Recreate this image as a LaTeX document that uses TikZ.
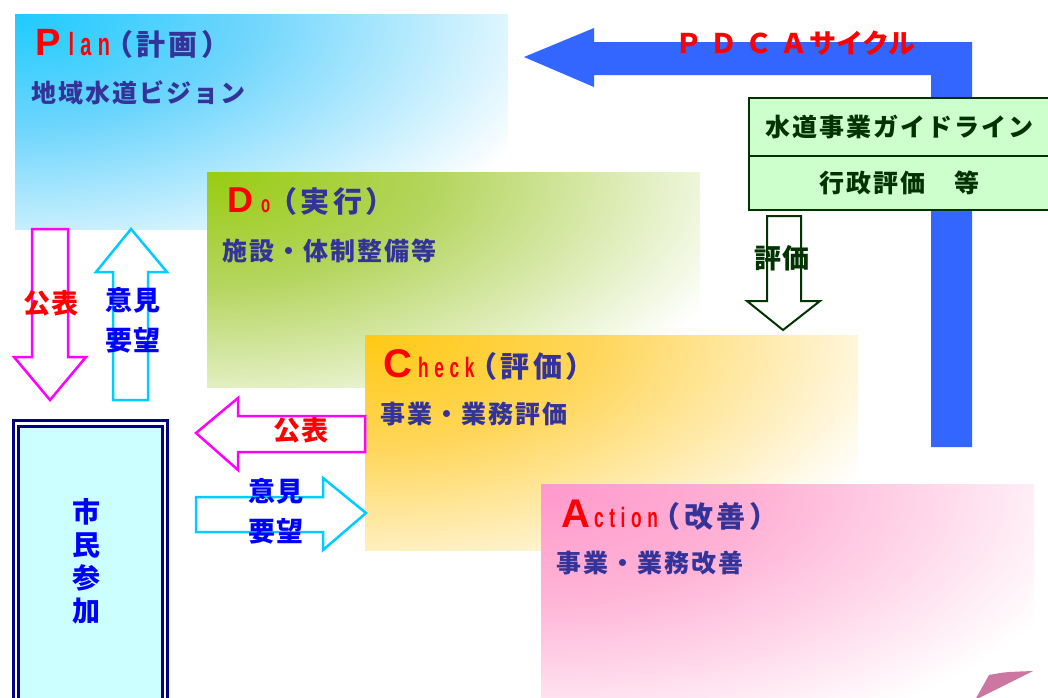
\documentclass[tikz,border=0pt]{standalone}
\usepackage{fontspec}
\newfontfamily\jp{Noto Sans CJK JP}[LetterSpace=8]
\newfontfamily\jpt{Noto Sans CJK JP}[LetterSpace=12]
\newfontfamily\jpl{Noto Sans CJK JP}[LetterSpace=4]
\newfontfamily\jpn{Noto Sans CJK JP}
\newfontfamily\latb{Liberation Sans}
\newfontfamily\nar{Liberation Sans}[FakeStretch=0.62, LetterSpace=20]
\definecolor{bodyc}{HTML}{333399}
\definecolor{planA}{HTML}{1ECBFF}
\definecolor{planB}{HTML}{6DD5FC}
\definecolor{doA}{HTML}{99CC11}
\definecolor{doB}{HTML}{B4D55E}
\definecolor{chA}{HTML}{FFC914}
\definecolor{chB}{HTML}{FFD65A}
\definecolor{acA}{HTML}{FF99CC}
\definecolor{acB}{HTML}{FFB3D6}
\definecolor{pdcablue}{HTML}{3366FF}
\definecolor{gdark}{HTML}{003300}
\definecolor{gfill}{HTML}{CCFFCC}
\definecolor{mag}{HTML}{FF00FF}
\definecolor{cya}{HTML}{00CCFF}
\definecolor{tblue}{HTML}{0000FF}
\definecolor{navy}{HTML}{000080}
\definecolor{cfill}{HTML}{CCFFFF}
\definecolor{curlc}{HTML}{CC77A2}
\pgfdeclareradialshading{planshade}{\pgfpoint{0bp}{0bp}}{color(0bp)=(planA); color(10bp)=(planB); color(25bp)=(white); color(50bp)=(white)}
\pgfdeclareradialshading{doshade}{\pgfpoint{0bp}{0bp}}{color(0bp)=(doA); color(10bp)=(doB); color(25bp)=(white); color(50bp)=(white)}
\pgfdeclareradialshading{chshade}{\pgfpoint{0bp}{0bp}}{color(0bp)=(chA); color(10bp)=(chB); color(25bp)=(white); color(50bp)=(white)}
\pgfdeclareradialshading{acshade}{\pgfpoint{0bp}{0bp}}{color(0bp)=(acA); color(10bp)=(acB); color(25bp)=(white); color(50bp)=(white)}
\begin{document}
\begin{tikzpicture}[x=1pt,y=-1pt,
  pbox/.style={anchor=north west, inner sep=0pt, minimum width=493pt, minimum height=215pt,
    path picture={\shade[shading=#1] (path picture bounding box.north west) ellipse [x radius=570pt, y radius=280pt];}},
  ttl/.style={anchor=base west, inner sep=0pt, text=red},
  sub/.style={anchor=base west, inner sep=0pt, text=bodyc, font=\jp\bfseries\fontsize{25}{28}\selectfont},
  gbox/.style={anchor=north west, inner sep=0pt, draw=gdark, line width=2pt, fill=gfill, text=gdark,
    minimum width=300pt, font=\jp\bfseries\fontsize{25}{28}\selectfont},
  lbl/.style={inner sep=0pt, font=\jpl\bfseries\fontsize{27}{28}\selectfont},
  harrow/.style={fill=white, line width=2.5pt, line join=miter},
]
\path[use as bounding box, clip] (0,0) rectangle (1048,697);
\fill[white] (0,0) rectangle (1048,697);
\newcommand\ptitle[1]{{\jpt\bfseries\fontsize{29}{30}\selectfont\color{bodyc}#1}}

% PDCA boxes
\node[pbox=planshade] (plan) at (15,14) {};
\node[pbox=doshade] (do) at (207,172) {};
\node[pbox=chshade] (check) at (365,335) {};
\node[pbox=acshade, minimum height=230pt] (act) at (541,484) {};
\fill[curlc] (975,700) -- (989,675) .. controls (1005,672) .. (1033,671) -- cycle;

% titles
\node[ttl] (plant) at (35,55) {{\latb\bfseries\fontsize{38}{40}\selectfont P}\hspace{8pt}{\nar\bfseries\fontsize{32}{34}\selectfont lan}\hspace{-6pt}\ptitle{（計画）}};
\node[sub] (plans) at (31,102) {地域水道ビジョン};
\node[ttl] (dot) at (227,212) {{\latb\bfseries\fontsize{36}{40}\selectfont D}\hspace{8pt}{\nar\bfseries\fontsize{24}{28}\selectfont o}\hspace{-2pt}\ptitle{（実行）}};
\node[sub] (dos) at (222,260) {施設・体制整備等};
\node[ttl] (checkt) at (383,377) {{\latb\bfseries\fontsize{40}{42}\selectfont C}\hspace{6pt}{\nar\bfseries\fontsize{28}{30}\selectfont heck}\hspace{-6pt}\ptitle{（評価）}};
\node[sub] (checks) at (380,423) {事業・業務評価};
\node[ttl] (actt) at (561,527) {{\latb\bfseries\fontsize{40}{42}\selectfont A}\hspace{4pt}{\nar\bfseries\fontsize{28}{30}\selectfont ction}\hspace{-6pt}\ptitle{（改善）}};
\node[sub] (acts) at (556,572) {事業・業務改善};

% PDCA cycle arrow
\fill[pdcablue] (524,57) -- (594,28) -- (594,42) -- (972,42) -- (972,447) -- (931,447) -- (931,75) -- (594,75) -- (594,87) -- cycle;
\node[anchor=base west, inner sep=0pt, text=red, font=\jpn\bfseries\fontsize{27}{30}\selectfont] (pdca) at (675,53)
  {Ｐ\hspace{8pt}Ｄ\hspace{8pt}Ｃ\hspace{8pt}Ａ\hspace{2pt}サイクル};

% guideline box
\node[gbox, minimum height=58pt] (g1) at (748,97) {水道事業ガイドライン};
\node[gbox, minimum height=54pt] (g2) at (748,155) {行政評価　等};

% evaluation arrow
\draw[fill=white, draw=gdark, line width=2pt] (767,216) -- (801,216) -- (801,301) -- (820,301) -- (783,330) -- (747,301) -- (767,301) -- cycle;
\node[lbl, text=gdark] (hyoka) at (782,258) {評価};

% citizen box
\draw[fill=white, draw=navy, line width=3pt] (13.5,420.5) rectangle (167.5,720);
\draw[fill=cfill, draw=navy, line width=2.5pt] (18.5,426.5) rectangle (162.5,710);
\node[align=center, inner sep=0pt, text=tblue, font=\jpn\bfseries\fontsize{28}{33}\selectfont] (shimin) at (86,561) {市\\民\\参\\加};

% vertical arrows
\draw[harrow, draw=mag] (32,229) -- (68,229) -- (68,357) -- (86,357) -- (50,400) -- (14,357) -- (32,357) -- cycle;
\node[lbl, text=red] (kohyo1) at (51,303) {公表};
\draw[harrow, draw=cya] (113,400) -- (148,400) -- (148,272) -- (167,272) -- (131,229) -- (96,272) -- (113,272) -- cycle;
\node[lbl, text=tblue] (iken1) at (133,300) {意見};
\node[lbl, text=tblue] (yobo1) at (133,340) {要望};

% horizontal arrows
\draw[harrow, draw=mag] (196,433) -- (238,398) -- (238,416) -- (365,416) -- (365,452) -- (238,452) -- (238,470) -- cycle;
\node[lbl, text=red] (kohyo2) at (301,430) {公表};
\draw[harrow, draw=cya] (196,497) -- (323,497) -- (323,478) -- (366,513) -- (323,550) -- (323,532) -- (196,532) -- cycle;
\node[lbl, text=tblue] (iken2) at (276,491) {意見};
\node[lbl, text=tblue] (yobo2) at (276,531) {要望};
\end{tikzpicture}
\end{document}
